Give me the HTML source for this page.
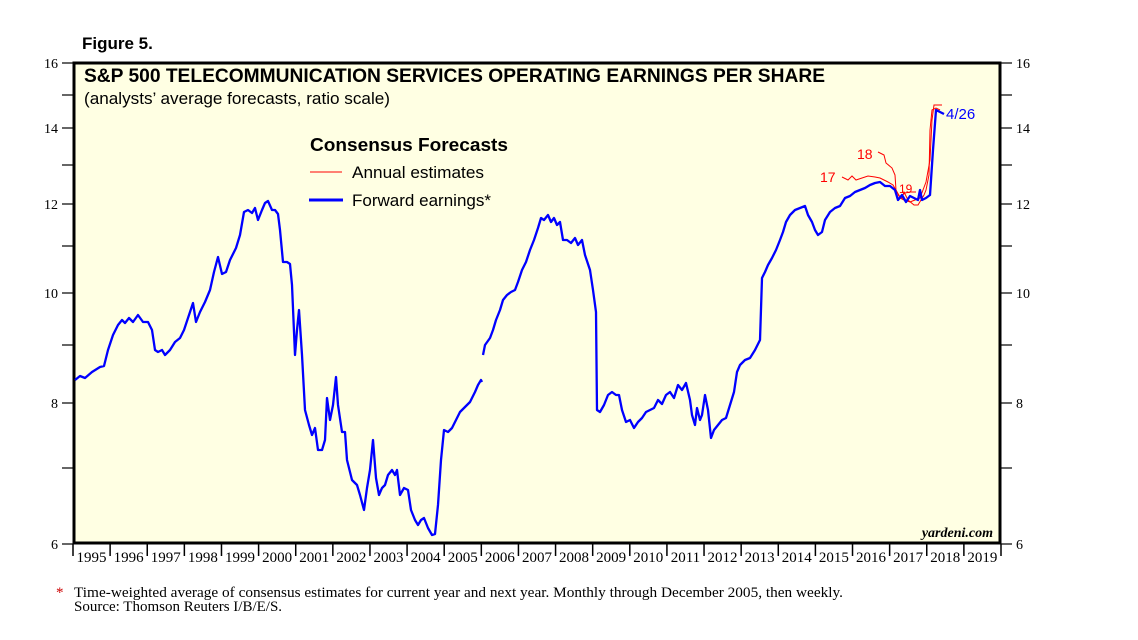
<!DOCTYPE html>
<html><head><meta charset="utf-8"><style>
body{margin:0;background:#fff;}
svg text{font-family:"Liberation Sans",sans-serif;}
</style></head><body>
<svg width="1138" height="635" viewBox="0 0 1138 635" xmlns="http://www.w3.org/2000/svg">
<rect x="0" y="0" width="1138" height="635" fill="#fff"/>
<text x="82" y="49" font-size="17" font-weight="bold">Figure 5.</text>
<rect x="74" y="63" width="926" height="480" fill="#ffffe3" stroke="#000" stroke-width="3"/>
<g stroke="#000" stroke-width="1.2">
<line x1="62" y1="63" x2="73" y2="63"/><line x1="62" y1="95" x2="73" y2="95"/><line x1="62" y1="128" x2="73" y2="128"/><line x1="62" y1="165" x2="73" y2="165"/><line x1="62" y1="204" x2="73" y2="204"/><line x1="62" y1="246" x2="73" y2="246"/><line x1="62" y1="293" x2="73" y2="293"/><line x1="62" y1="345" x2="73" y2="345"/><line x1="62" y1="403" x2="73" y2="403"/><line x1="62" y1="468" x2="73" y2="468"/><line x1="62" y1="544" x2="73" y2="544"/>
<line x1="1001" y1="63" x2="1012" y2="63"/><line x1="1001" y1="95" x2="1012" y2="95"/><line x1="1001" y1="128" x2="1012" y2="128"/><line x1="1001" y1="165" x2="1012" y2="165"/><line x1="1001" y1="204" x2="1012" y2="204"/><line x1="1001" y1="246" x2="1012" y2="246"/><line x1="1001" y1="293" x2="1012" y2="293"/><line x1="1001" y1="345" x2="1012" y2="345"/><line x1="1001" y1="403" x2="1012" y2="403"/><line x1="1001" y1="468" x2="1012" y2="468"/><line x1="1001" y1="544" x2="1012" y2="544"/>
</g>
<g font-size="14" fill="#000">
<text x="58" y="68" text-anchor="end" style="font-family:'Liberation Serif',serif">16</text>
<text x="58" y="133" text-anchor="end" style="font-family:'Liberation Serif',serif">14</text>
<text x="58" y="209" text-anchor="end" style="font-family:'Liberation Serif',serif">12</text>
<text x="58" y="298" text-anchor="end" style="font-family:'Liberation Serif',serif">10</text>
<text x="58" y="408" text-anchor="end" style="font-family:'Liberation Serif',serif">8</text>
<text x="58" y="549" text-anchor="end" style="font-family:'Liberation Serif',serif">6</text>
<text x="1016" y="68" style="font-family:'Liberation Serif',serif">16</text>
<text x="1016" y="133" style="font-family:'Liberation Serif',serif">14</text>
<text x="1016" y="209" style="font-family:'Liberation Serif',serif">12</text>
<text x="1016" y="298" style="font-family:'Liberation Serif',serif">10</text>
<text x="1016" y="408" style="font-family:'Liberation Serif',serif">8</text>
<text x="1016" y="549" style="font-family:'Liberation Serif',serif">6</text>
</g>
<g id="xt" stroke="#000" stroke-width="1.5"></g>
<g font-size="15" id="xl"></g>
<script>
(function(){var g=document.getElementById('xt'),l=document.getElementById('xl'),ns='http://www.w3.org/2000/svg';
for(var i=0;i<=25;i++){var x=73+i*37.12;var ln=document.createElementNS(ns,'line');ln.setAttribute('x1',x);ln.setAttribute('x2',x);ln.setAttribute('y1',544);ln.setAttribute('y2',556);g.appendChild(ln);
if(i<25){var t=document.createElementNS(ns,'text');t.setAttribute('x',x+18.5);t.setAttribute('y',562);t.setAttribute('text-anchor','middle');t.setAttribute('style',"font-family:'Liberation Serif',serif");t.textContent=1995+i;l.appendChild(t);}}})();
</script>
<text x="84" y="82" font-size="19" font-weight="bold" textLength="741" lengthAdjust="spacingAndGlyphs">S&amp;P 500 TELECOMMUNICATION SERVICES OPERATING EARNINGS PER SHARE</text>
<text x="84" y="104" font-size="17" textLength="306" lengthAdjust="spacingAndGlyphs">(analysts’ average forecasts, ratio scale)</text>
<text x="310" y="151" font-size="18" font-weight="bold" textLength="198" lengthAdjust="spacingAndGlyphs">Consensus Forecasts</text>
<line x1="310" y1="172" x2="342" y2="172" stroke="red" stroke-width="1"/>
<text x="352" y="178" font-size="16.5" textLength="132" lengthAdjust="spacingAndGlyphs">Annual estimates</text>
<line x1="309" y1="200" x2="343" y2="200" stroke="blue" stroke-width="3"/>
<text x="352" y="206" font-size="16.5" textLength="139" lengthAdjust="spacingAndGlyphs">Forward earnings*</text>
<g fill="none" stroke="red" stroke-width="1">
<polyline points="842,177 848,180 852,176 856,180 862,178 868,176 875,177 880,178 884,180 888,182 893,185 897,192 900,197 905,193 910,192 916,192"/>
<polyline points="878,152 884,155 886,163 892,168 895,175 896,190 900,198 904,200 910,202 915,200 920,198 923,190 926,182 930,160 932,120 934,105 938,105 942,105"/>
<polyline points="898,195 902,198 904,192 908,200 914,205 918,205 921,200 924,195 926,190 929,175 930,130 932,110 936,108 940,110"/>
</g>
<text x="820" y="182" font-size="14" fill="red">17</text>
<text x="857" y="159" font-size="14" fill="red">18</text>
<text x="899" y="193" font-size="12" fill="red">19</text>
<g fill="none" stroke="blue" stroke-width="2.3" stroke-linejoin="round">
<polyline points="75,380 80,376 85,378 92,372 100,367 104,366 108,350 113,335 118,325 122,320 125,323 129,318 133,322 138,315 143,322 148,322 152,330 155,350 158,352 162,350 165,355 170,350 175,342 180,338 184,330 188,318 193,303 196,322 200,312 205,302 210,290 214,272 218,257 222,274 226,272 230,260 236,248 240,235 244,212 248,210 252,213 255,208 258,220 262,210 265,203 268,201 272,210 275,210 278,214 280,230 283,262 287,262 290,264 292,285 295,355 297,330 299,310 302,355 305,410 309,425 312,435 315,428 318,450 322,450 325,440 327,398 330,420 333,405 336,377 338,405 342,432 345,432 347,460 352,480 357,485 360,495 364,510 367,488 370,470 373,440 376,478 379,495 382,488 385,485 388,475 392,470 395,475 397,470 400,495 404,488 408,490 411,510 415,520 418,525 421,520 424,518 428,528 432,535 435,534 438,505 441,460 444,430 448,432 452,428 456,420 460,412 464,408 470,402 475,392 478,385 481,380 482,382"/>
<polyline points="483,355 485,345 490,338 493,330 496,320 500,310 503,300 507,295 511,292 515,290 518,282 522,270 526,262 530,250 534,240 538,228 541,218 544,220 548,215 551,222 554,218 557,225 560,222 563,240 567,240 571,243 575,238 578,245 582,240 585,255 590,270 593,290 596,312 597,410 600,412 604,405 608,395 612,392 616,395 619,395 622,410 626,422 630,420 634,428 638,422 642,418 646,412 650,410 654,408 658,400 662,404 666,395 670,392 674,398 678,385 682,390 686,383 690,400 692,415 695,425 697,408 700,420 702,415 705,395 708,410 711,438 714,430 718,425 722,420 726,418 730,405 734,392 737,372 740,365 745,360 750,358 755,350 760,340 762,278 765,272 768,265 772,258 776,250 780,240 783,232 786,222 790,215 795,210 800,208 805,206 808,215 812,222 815,230 818,235 822,232 825,220 830,212 835,208 840,206 845,198 850,196 855,192 860,190 865,188 870,185 875,183 880,182 885,186 890,186 895,190 898,200 902,195 906,202 910,196 914,198 918,200 920,190 922,200 926,198 930,195 933,150 936,110 940,112 944,114"/>
</g>
<text x="946" y="119" font-size="15" fill="blue">4/26</text>
<text x="993" y="537" font-size="14" font-style="italic" font-weight="bold" text-anchor="end" style="font-family:'Liberation Serif',serif">yardeni.com</text>
<text x="56" y="597" font-size="15" fill="#c00" style="font-family:'Liberation Serif',serif">*</text>
<text x="74" y="597" font-size="15" textLength="769" lengthAdjust="spacingAndGlyphs" style="font-family:'Liberation Serif',serif">Time-weighted average of consensus estimates for current year and next year. Monthly through December 2005, then weekly.</text>
<text x="74" y="611" font-size="15" style="font-family:'Liberation Serif',serif">Source: Thomson Reuters I/B/E/S.</text>
</svg>
</body></html>
